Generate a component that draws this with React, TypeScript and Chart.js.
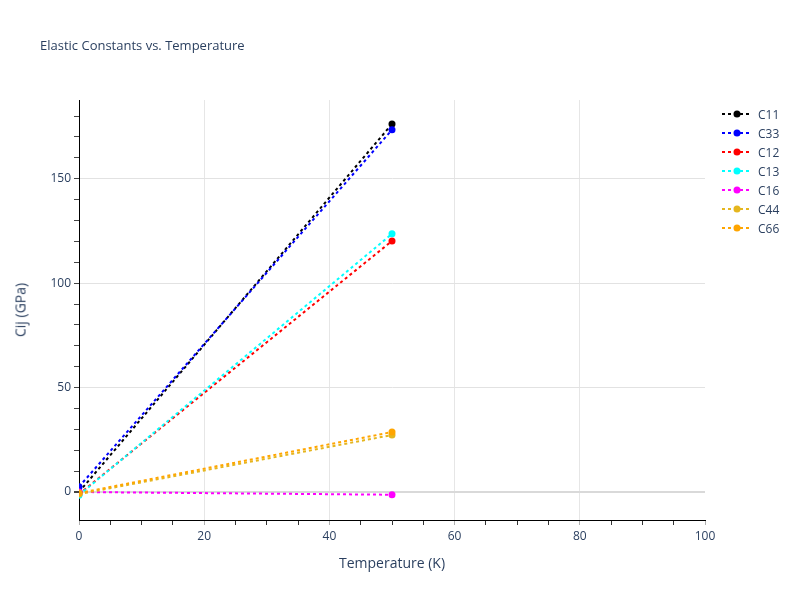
import { useEffect, useRef } from "react";
import { Chart, registerables } from "chart.js";

Chart.register(...registerables);

//  Data

const TEMPERATURES = [0, 50];

const SERIES_NAMES = ["C11", "C33", "C12", "C13", "C16", "C44", "C66"];
const SERIES_COLORS = [
  "#000000",
  "#0000ff",
  "#ff0000",
  "#00ffff",
  "#ff00ff",
  "#e5b61f",
  "#ffa500",
];

const C11 = [0, 176.2];
const C33 = [2.5, 173.4];
const C12 = [-1, 120.2];
const C13 = [-1.5, 123.6];
const C16 = [0, -1.3];
const C44 = [-1, 27.3];
const C66 = [-0.5, 28.7];

const SERIES_VALUES = [C11, C33, C12, C13, C16, C44, C66];

const FONT = "'Open Sans', Arial, sans-serif";
const TEXT = "#2a3f5f";

//  Component

export default function App() {
  const canvasRef = useRef<HTMLCanvasElement>(null);

  useEffect(() => {
    if (!canvasRef.current) return;

    const chart = new Chart(canvasRef.current, {
      type: "line",
      data: {
        datasets: SERIES_NAMES.map((name, i) => ({
          label: name,
          data: TEMPERATURES.map((t, j) => ({ x: t, y: SERIES_VALUES[i][j] })),
          borderColor: SERIES_COLORS[i],
          backgroundColor: SERIES_COLORS[i],
          borderWidth: 2,
          borderDash: [3, 3],
          pointRadius: 3.5,
          pointBorderWidth: 0,
          pointBackgroundColor: SERIES_COLORS[i],
          tension: 0,
          fill: false,
          // plotly draws later traces on top
          order: SERIES_NAMES.length - i,
        })),
      },
      options: {
        responsive: false,
        animation: false,
        layout: { padding: { left: 0, top: 100, right: 95, bottom: 0 } },
        plugins: {
          legend: { display: false },
          title: { display: false },
          tooltip: { enabled: false },
        },
        scales: {
          x: {
            type: "linear",
            min: 0,
            max: 100,
            afterFit: (scale) => {
              scale.height = 80;
            },
            afterBuildTicks: (axis) => {
              axis.ticks = axis.ticks.filter((t) => t.value % 5 === 0);
            },
            border: { display: true, color: "#000", width: 1 },
            grid: {
              drawTicks: true,
              tickLength: 5,
              color: (ctx) =>
                ctx.tick && ctx.tick.value % 20 === 0 && ctx.tick.value > 0 && ctx.tick.value < 100
                  ? "#e6e6e6"
                  : "rgba(0,0,0,0)",
              tickColor: (ctx) =>
                ctx.tick && ctx.tick.value % 20 === 0 ? "#b0b0b0" : "#333",
              lineWidth: 1,
            },
            ticks: {
              stepSize: 5,
              autoSkip: false,
              maxRotation: 0,
              padding: 4,
              color: TEXT,
              font: { family: FONT, size: 12 },
              callback: (v) => (Number(v) % 20 === 0 ? String(v) : ""),
            },
          },
          y: {
            type: "linear",
            min: -13.4,
            max: 187.7,
            afterFit: (scale) => {
              scale.width = 79;
            },
            afterBuildTicks: (axis) => {
              axis.ticks = axis.ticks.filter(
                (t) => Math.abs(t.value % 10) < 1e-6,
              );
            },
            border: { display: true, color: "#000", width: 1 },
            grid: {
              drawTicks: true,
              tickLength: 5,
              color: (ctx) => {
                const v = ctx.tick ? ctx.tick.value : 1;
                if (v === 0) return "#d9d9d9";
                return v % 50 === 0 ? "#e2e2e2" : "rgba(0,0,0,0)";
              },
              lineWidth: (ctx) => (ctx.tick && ctx.tick.value === 0 ? 2 : 1),
              tickColor: "#444",
            },
            ticks: {
              stepSize: 10,
              autoSkip: false,
              padding: 3,
              color: TEXT,
              font: { family: FONT, size: 12 },
              callback: (v) => (Number(v) % 50 === 0 ? String(v) : ""),
            },
          },
        },
      },
    });

    return () => {
      chart.destroy();
    };
  }, []);

  return (
    <div
      style={{
        position: "fixed",
        left: 0,
        top: 0,
        width: 800,
        height: 600,
        background: "#fff",
        fontFamily: FONT,
        color: TEXT,
      }}
    >
      <canvas ref={canvasRef} width={800} height={600} />

      {/* Title */}
      <div
        style={{
          position: "absolute",
          left: 40,
          top: 36,
          fontSize: 13,
          whiteSpace: "nowrap",
        }}
      >
        Elastic Constants vs. Temperature
      </div>

      {/* Axis titles */}
      <div
        style={{
          position: "absolute",
          left: 292,
          width: 200,
          top: 553,
          textAlign: "center",
          fontSize: 14,
        }}
      >
        Temperature (K)
      </div>
      <div
        style={{
          position: "absolute",
          left: 20,
          top: 310,
          fontSize: 14,
          whiteSpace: "nowrap",
          transform: "translate(-50%, -50%) rotate(-90deg)",
        }}
      >
        Cij (GPa)
      </div>

      {/* Legend */}
      {SERIES_NAMES.map((name, i) => (
        <LegendItem
          key={name}
          label={name}
          color={SERIES_COLORS[i]}
          top={114 + i * 19}
        />
      ))}
    </div>
  );
}

//  Sub-components

function LegendItem({
  label,
  color,
  top,
}: {
  label: string;
  color: string;
  top: number;
}) {
  return (
    <div
      style={{
        position: "absolute",
        left: 722,
        top: top - 9,
        height: 18,
        display: "flex",
        alignItems: "center",
        fontSize: 12,
        whiteSpace: "nowrap",
      }}
    >
      <svg width={30} height={10} style={{ display: "block" }}>
        <line
          x1={0}
          y1={5}
          x2={30}
          y2={5}
          stroke={color}
          strokeWidth={2}
          strokeDasharray="3,3"
        />
        <circle cx={15} cy={5} r={3.5} fill={color} />
      </svg>
      <span style={{ marginLeft: 6 }}>{label}</span>
    </div>
  );
}
